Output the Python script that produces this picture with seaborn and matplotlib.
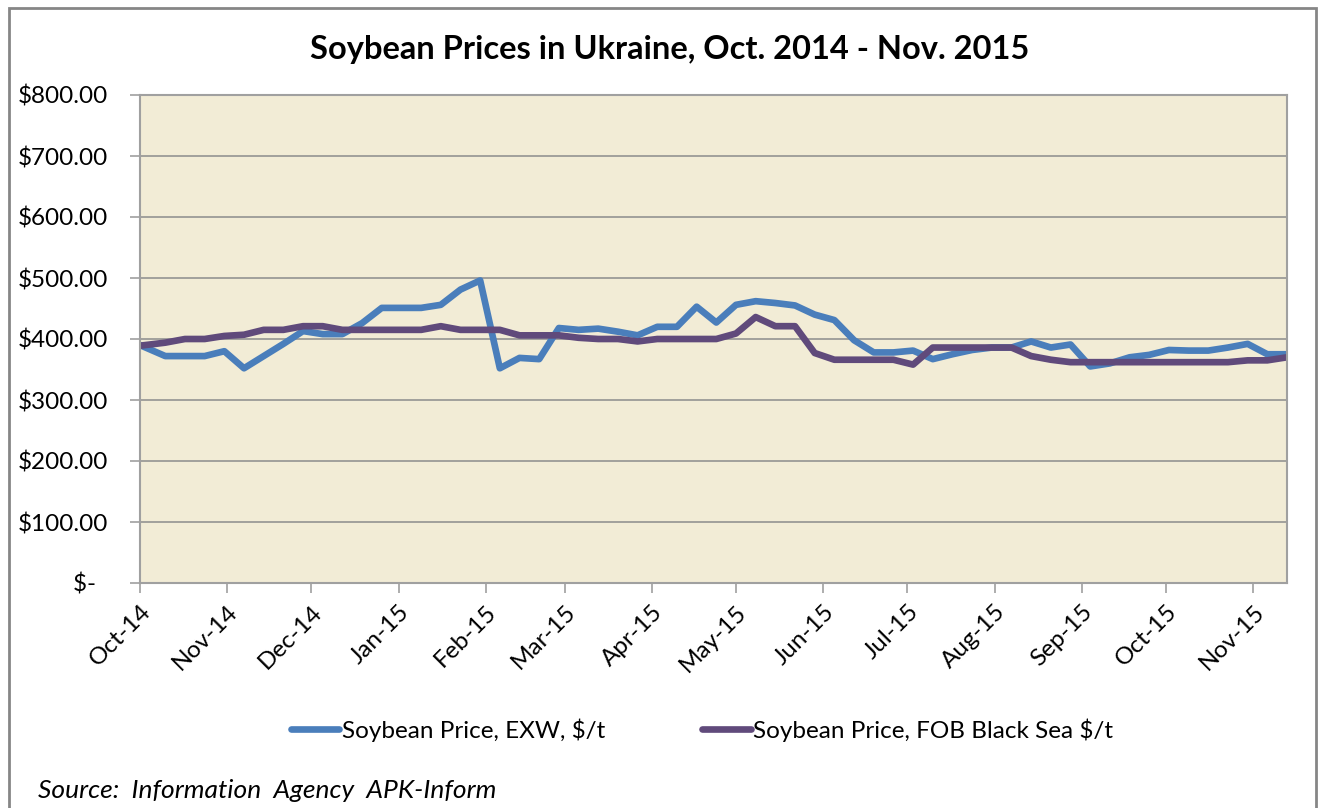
import pandas as pd
import seaborn as sns
import matplotlib.pyplot as plt
import matplotlib.dates as mdates
from matplotlib.patches import Rectangle
from matplotlib.ticker import FuncFormatter

# Datos (semanales)
fechas = [pd.Timestamp('2014-10-01')] + list(pd.date_range('2014-10-10', '2015-11-13', freq='7D'))

exw = [390, 372, 372, 372, 380, 352, 372, 392, 413, 408,
       408, 426, 451, 451, 451, 456, 481, 496, 352, 369,
       367, 418, 415, 417, 412, 406, 420, 420, 453, 427,
       456, 462, 459, 455, 440, 431, 398, 378, 378, 381,
       367, 375, 382, 386, 386, 396, 386, 391, 355, 360,
       370, 374, 382, 381, 381, 386, 392, 375, 375]

fob = [389, 394, 400, 400, 405, 407, 415, 415, 421, 421,
       415, 415, 415, 415, 415, 421, 415, 415, 415, 406,
       406, 406, 402, 400, 400, 396, 400, 400, 400, 400,
       409, 436, 421, 421, 377, 366, 366, 366, 366, 358,
       386, 386, 386, 386, 386, 372, 366, 362, 362, 362,
       362, 362, 362, 362, 362, 362, 365, 365, 370]

serie1 = 'Soybean Price, EXW, $/t'
serie2 = 'Soybean Price, FOB Black Sea $/t'
titulo = 'Soybean Prices in Ukraine, Oct. 2014 - Nov. 2015'
fuente = 'Source:  Information  Agency  APK-Inform'

datos = pd.DataFrame({'fecha': fechas * 2,
                      'precio': exw + fob,
                      'serie': [serie1] * len(exw) + [serie2] * len(fob)})

sns.set_style('white')
plt.rcParams['font.family'] = ['Lato', 'DejaVu Sans']
plt.rcParams['text.color'] = 'black'

fig = plt.figure(figsize=(13.28, 8.08), dpi=100)
ax = fig.add_axes([140/1328, 1 - 583/808, (1287-140)/1328, (583-95)/808])
ax.set_facecolor('#F2ECD6')

sns.lineplot(data=datos, x='fecha', y='precio', hue='serie',
             palette=['#4A7EBB', '#604A7B'], linewidth=4.8, ax=ax, legend=False)

# Ejes
ax.set_xlim(pd.Timestamp('2014-10-01'), pd.Timestamp('2015-11-13'))
ax.set_ylim(0, 800)
ax.set_yticks(range(0, 801, 100))
ax.yaxis.set_major_formatter(FuncFormatter(lambda v, p: '$-  ' if v == 0 else f'${v:,.2f}'))
ax.xaxis.set_major_locator(mdates.MonthLocator())
ax.xaxis.set_major_formatter(mdates.DateFormatter('%b-%y'))
ax.grid(axis='y', color='#8C8C8C', linewidth=1.1)
ax.set_axisbelow(True)
ax.set_xlabel('')
ax.set_ylabel('')
for s in ax.spines.values():
    s.set_color('#A0A0A0')
    s.set_linewidth(1.5)
ax.tick_params(axis='both', colors='#A0A0A0', labelcolor='black', labelsize=17.5,
               length=7, width=1.2, direction='out', left=True, bottom=True)
ax.tick_params(axis='y', pad=16)
ax.tick_params(axis='x', pad=6)
for lbl in ax.get_xticklabels():
    lbl.set_rotation(45)
    lbl.set_ha('right')
    lbl.set_rotation_mode('anchor')

# Título, leyenda y fuente
fig.text(670/1328, 1 - 49/808, titulo, ha='center', va='center', fontsize=23.5, fontweight='bold')

h1, = ax.plot([], [], color='#4A7EBB', linewidth=4.8)
h2, = ax.plot([], [], color='#604A7B', linewidth=4.8)
fig.legend([h1, h2], [serie1, serie2], loc='center', bbox_to_anchor=(702/1328, 1 - 730/808),
           ncol=2, frameon=False, fontsize=17.5, handlelength=2.0, handletextpad=0.1,
           columnspacing=4.0)

fig.text(38/1328, 1 - 790/808, fuente, ha='left', va='center', fontsize=19, fontstyle='italic')

# Borde del gráfico
fig.patches.append(Rectangle((9/1328, -0.02), (1316-9)/1328, 1 - 8/808 + 0.02,
                             transform=fig.transFigure, fill=False,
                             edgecolor='#868686', linewidth=2))

fig.savefig('out.png', dpi=100)
